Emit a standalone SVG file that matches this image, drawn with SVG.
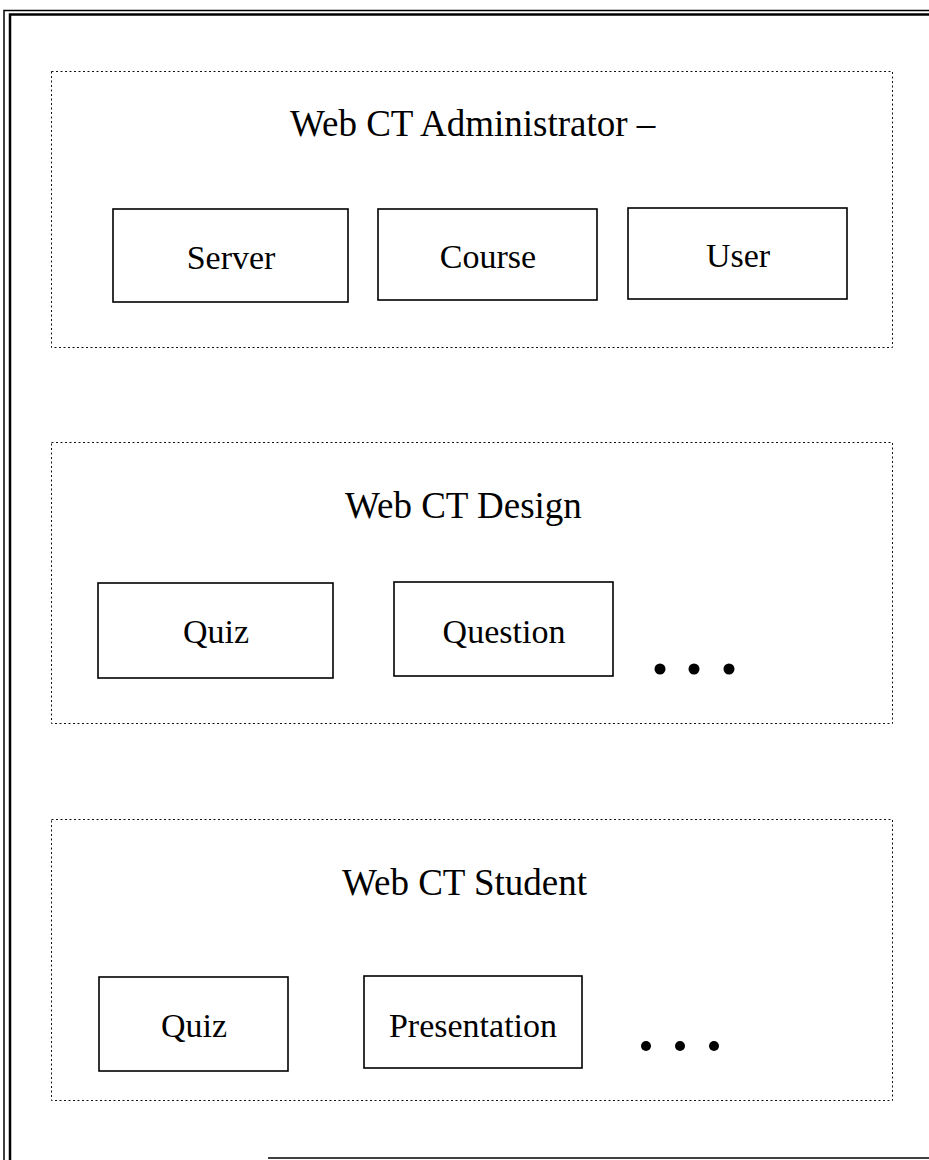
<svg xmlns="http://www.w3.org/2000/svg" width="929" height="1160" viewBox="0 0 929 1160">
<style>
.panel{fill:none;stroke:#111;stroke-width:1;stroke-dasharray:2 2.5}
.box{fill:#fff;stroke:#000;stroke-width:1.6}
.title{font-family:"Liberation Serif","Times New Roman",serif;font-size:37px;fill:#000}
.label{font-family:"Liberation Serif","Times New Roman",serif;font-size:34px;fill:#000;text-anchor:middle}
.frame{fill:none;stroke:#000}
</style>
<rect width="929" height="1160" fill="#fff"/>
<g id="frame">
<path class="frame" stroke-width="1.5" d="M4,1160 V10.5 H929"/>
<path class="frame" stroke-width="2.5" d="M10,1160 V14.5 H929"/>
<path class="frame" stroke-width="1.5" d="M268,1158 H929"/>
</g>
<g id="panel-admin">
<rect class="panel" x="51.5" y="71.5" width="841" height="276"/>
<text class="title" x="290" y="136">Web CT Administrator –</text>
</g>
<g id="node-server">
<rect class="box" x="113" y="209" width="235" height="93"/>
<text class="label" x="231" y="269">Server</text>
</g>
<g id="node-course">
<rect class="box" x="378" y="209" width="219" height="91"/>
<text class="label" x="488" y="268">Course</text>
</g>
<g id="node-user">
<rect class="box" x="628" y="208" width="219" height="91"/>
<text class="label" x="738" y="267">User</text>
</g>
<g id="panel-design">
<rect class="panel" x="51.5" y="442.5" width="841" height="281"/>
<text class="title" x="345" y="518">Web CT Design</text>
</g>
<g id="node-design-quiz">
<rect class="box" x="98" y="583" width="235" height="95"/>
<text class="label" x="216" y="643">Quiz</text>
</g>
<g id="node-question">
<rect class="box" x="394" y="582" width="219" height="94"/>
<text class="label" x="504" y="643">Question</text>
</g>
<g id="ellipsis-design" fill="#000">
<circle cx="660" cy="669" r="5.5"/>
<circle cx="694" cy="669" r="5.5"/>
<circle cx="729" cy="669" r="5.5"/>
</g>
<g id="panel-student">
<rect class="panel" x="51.5" y="819.5" width="841" height="281"/>
<text class="title" x="342" y="895">Web CT Student</text>
</g>
<g id="node-student-quiz">
<rect class="box" x="99" y="977" width="189" height="94"/>
<text class="label" x="194" y="1037">Quiz</text>
</g>
<g id="node-presentation">
<rect class="box" x="364" y="976" width="218" height="92"/>
<text class="label" x="473" y="1037">Presentation</text>
</g>
<g id="ellipsis-student" fill="#000">
<circle cx="646" cy="1046" r="5"/>
<circle cx="680" cy="1046" r="5"/>
<circle cx="714" cy="1046" r="5"/>
</g>
<g id="connectors"></g>
</svg>
